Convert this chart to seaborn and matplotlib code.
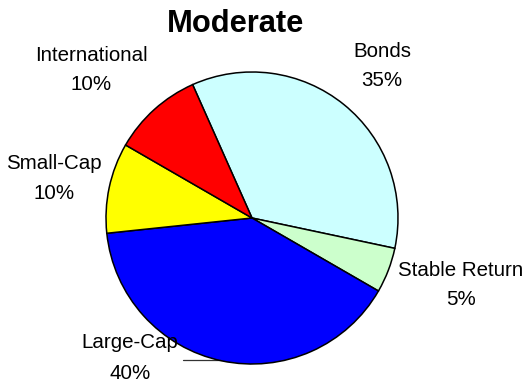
import matplotlib
matplotlib.use("Agg")
import matplotlib.pyplot as plt
import seaborn as sns

# Portfolio allocation for the "Moderate" model
categories = ["Bonds", "Stable Return", "Large-Cap", "Small-Cap", "International"]
shares = [35, 5, 40, 10, 10]
colors = ["#CCFFFF", "#CCFFCC", "#0000FF", "#FFFF00", "#FF0000"]
title = "Moderate"

sns.set_theme(style="white")
plt.rcParams["font.family"] = ["Liberation Sans", "DejaVu Sans"]

W, H, DPI = 530, 387, 100
fig = plt.figure(figsize=(W / DPI, H / DPI), dpi=DPI)
ax = fig.add_axes([0, 0, 1, 1])

# pie geometry in pixels (centre and radius), converted to unit-radius data space
cx, cy, rad = 252.0, 218.0, 146.0


def to_data(px, py):
    return (px - cx) / rad, (cy - py) / rad


ax.pie(
    shares,
    colors=colors,
    startangle=114,
    counterclock=False,
    radius=1.0,
    center=(0, 0),
    wedgeprops=dict(edgecolor="black", linewidth=1.1),
)

ax.set_xlim(-cx / rad, (W - cx) / rad)
ax.set_ylim(-(H - cy) / rad, cy / rad)
ax.set_aspect("equal")
ax.axis("off")

# label anchor points: (centre x, baseline of name, baseline of percentage) in pixels
label_pos = {
    "Bonds": (382, 57, 86),
    "Stable Return": (461, 276, 305),
    "Large-Cap": (130, 348, 379),
    "Small-Cap": (54, 169, 199),
    "International": (91, 61, 90),
}

fs = 14.8
for name, val in zip(categories, shares):
    x, y1, y2 = label_pos[name]
    ax.text(*to_data(x, y1), name, ha="center", va="baseline",
            fontsize=fs, color="black", zorder=5)
    ax.text(*to_data(x, y2), f"{val}%", ha="center", va="baseline",
            fontsize=fs, color="black", zorder=5)

# leader line from the Large-Cap label to its slice
lx0, ly = to_data(183, 360)
lx1, _ = to_data(240, 360)
ax.plot([lx0, lx1], [ly, ly], color="#333333", linewidth=0.9, zorder=0)

ax.text(*to_data(235, 32), title, ha="center", va="baseline",
        fontsize=22.2, fontweight="bold", color="black")

fig.savefig("out.png", dpi=DPI, facecolor="white")
